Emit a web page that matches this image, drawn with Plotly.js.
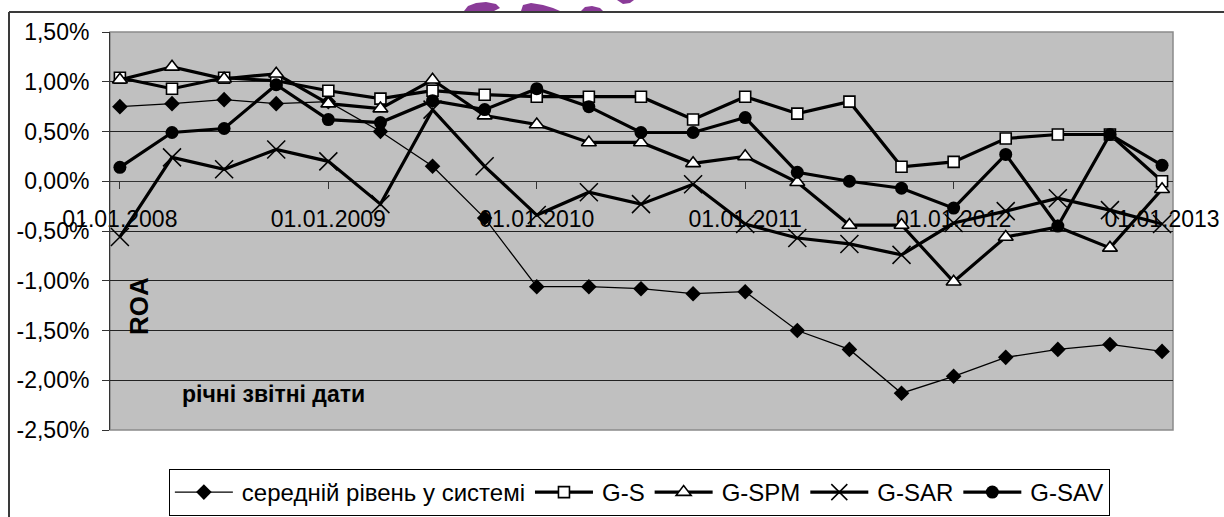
<!DOCTYPE html>
<html>
<head>
<meta charset="utf-8">
<script src="https://cdn.plot.ly/plotly-3.0.1.min.js"></script>
<style>html,body{margin:0;padding:0;background:#fff;}#chart{width:1224px;height:517px;}</style>
</head>
<body>
<div id="chart"></div>
<script>
// Quarterly reporting dates (index positions on x axis)
const dates = ["01.01.2008","01.04.2008","01.07.2008","01.10.2008",
  "01.01.2009","01.04.2009","01.07.2009","01.10.2009",
  "01.01.2010","01.04.2010","01.07.2010","01.10.2010",
  "01.01.2011","01.04.2011","01.07.2011","01.10.2011",
  "01.01.2012","01.04.2012","01.07.2012","01.10.2012","01.01.2013"];
const xIndex = dates.map((d, i) => i);

// ROA values, %
const avgSystem = [0.75, 0.78, 0.82, 0.78, 0.80, 0.50, 0.15, -0.37, -1.06, -1.06, -1.08, -1.13, -1.11, -1.50, -1.69, -2.13, -1.96, -1.77, -1.69, -1.64, -1.71];
const gS   = [1.04, 0.93, 1.04, 1.01, 0.91, 0.83, 0.91, 0.87, 0.85, 0.85, 0.85, 0.62, 0.85, 0.68, 0.80, 0.145, 0.195, 0.43, 0.47, 0.47, 0.00];
const gSPM = [1.02, 1.15, 1.03, 1.08, 0.78, 0.73, 1.02, 0.66, 0.57, 0.39, 0.39, 0.18, 0.25, -0.01, -0.44, -0.44, -1.01, -0.56, -0.46, -0.67, -0.08];
const gSAR = [-0.56, 0.24, 0.12, 0.32, 0.20, -0.23, 0.72, 0.15, -0.34, -0.11, -0.23, -0.03, -0.43, -0.57, -0.63, -0.74, -0.42, -0.30, -0.17, -0.29, -0.43];
const gSAV = [0.14, 0.49, 0.53, 0.97, 0.62, 0.59, 0.81, 0.72, 0.93, 0.75, 0.49, 0.49, 0.64, 0.09, 0.00, -0.07, -0.27, 0.27, -0.45, 0.47, 0.16];

const seriesNames = ["середній рівень у системі", "G-S", "G-SPM", "G-SAR", "G-SAV"];

// Axis ticks
const xTickVals = [0, 4, 8, 12, 16, 20];
const xTickText = ["01.01.2008", "01.01.2009", "01.01.2010", "01.01.2011", "01.01.2012", "01.01.2013"];
const yTickVals = [-2.5, -2.0, -1.5, -1.0, -0.5, 0, 0.5, 1.0, 1.5];
const yTickText = ["-2,50%", "-2,00%", "-1,50%", "-1,00%", "-0,50%", "0,00%", "0,50%", "1,00%", "1,50%"];

const FONT = "Liberation Sans, Arial, sans-serif";
const LEGEND_ITEM_W = 62;
const LEGEND_LINE_W = 58;

const traces = [
  {x: xIndex, y: avgSystem, name: seriesNames[0], mode: "lines+markers",
   line: {color: "#000", width: 1.3},
   marker: {symbol: "diamond", size: 12, color: "#000"}},
  {x: xIndex, y: gS, name: seriesNames[1], mode: "lines+markers",
   line: {color: "#000", width: 3.2},
   marker: {symbol: "square", size: 11, color: "#fff", line: {color: "#000", width: 1.6}}},
  {x: xIndex, y: gSPM, name: seriesNames[2], mode: "lines+markers",
   line: {color: "#000", width: 3.2},
   marker: {symbol: "triangle-up", size: 13, color: "#fff", line: {color: "#000", width: 1.6}}},
  {x: xIndex, y: gSAR, name: seriesNames[3], mode: "lines+markers",
   line: {color: "#000", width: 3.2},
   marker: {symbol: "x-thin-open", size: 18, color: "#000", line: {color: "#000", width: 1.5}}},
  {x: xIndex, y: gSAV, name: seriesNames[4], mode: "lines+markers",
   line: {color: "#000", width: 3.2},
   marker: {symbol: "circle", size: 13, color: "#000"}}
];

// helpers: plot area is 110..1173 px horizontally, 32..430 px vertically
const pxX = p => (p - 110) / 1063;
const pxY = p => (430 - p) / 398;
const poly = pts => "M" + pts.map(p => pxX(p[0]) + "," + pxY(p[1])).join("L") + "Z";

const purple = "#8a3b98";
const blobs = [
  [[464,11],[468,6],[476,3],[486,2],[496,4],[500,8],[494,11]],
  [[521,11],[523,5],[531,3],[543,5],[553,8],[560,11]],
  [[581,11],[585,7],[592,6],[600,8],[603,11]],
  [[617,0],[634,0],[630,3],[623,4]]
];

const layout = {
  width: 1224, height: 517,
  margin: {l: 110, r: 51, t: 32, b: 87, autoexpand: false},
  paper_bgcolor: "#fff",
  plot_bgcolor: "#c0c0c0",
  font: {family: FONT, color: "#000", size: 23},
  showlegend: true,
  legend: {
    orientation: "h", x: 0.498, xanchor: "center", y: pxY(469), yanchor: "top",
    bgcolor: "#fff", bordercolor: "#000", borderwidth: 1,
    font: {family: FONT, size: 24, color: "#000"},
    itemwidth: LEGEND_ITEM_W, tracegroupgap: 0
  },
  xaxis: {
    range: [-0.19, 20.21],
    anchor: "free", position: 0.625,
    tickvals: xTickVals, ticktext: xTickText,
    ticks: "outside", ticklen: 7, tickcolor: "#333", tickwidth: 1,
    ticklabelstandoff: 10,
    showgrid: false, zeroline: false,
    showline: true, linecolor: "#333", linewidth: 1,
    tickfont: {family: FONT, size: 23, color: "#000"},
    layer: "below traces"
  },
  yaxis: {
    range: [-2.5, 1.5],
    tickvals: yTickVals, ticktext: yTickText,
    ticks: "outside", ticklen: 7, tickcolor: "#333", tickwidth: 1,
    ticklabelstandoff: 8,
    showgrid: true, gridcolor: "#222", gridwidth: 1,
    zeroline: false,
    showline: true, linecolor: "#333", linewidth: 1,
    tickfont: {family: FONT, size: 23, color: "#000"}
  },
  shapes: [
    {type: "rect", xref: "paper", yref: "paper", x0: 0, x1: 1, y0: 0, y1: 1,
     line: {color: "#8a8a8a", width: 1.5}, layer: "below"},
    {type: "line", xref: "paper", yref: "paper", x0: pxX(9), x1: pxX(1226), y0: pxY(12), y1: pxY(12),
     line: {color: "#3a3a3a", width: 2}},
    {type: "line", xref: "paper", yref: "paper", x0: pxX(9), x1: pxX(9), y0: pxY(12), y1: pxY(520),
     line: {color: "#3a3a3a", width: 2}}
  ].concat(blobs.map(b => ({type: "path", xref: "paper", yref: "paper", path: poly(b),
     fillcolor: purple, line: {width: 0}}))),
  annotations: [
    {text: "<b>ROA</b>", xref: "paper", yref: "paper", x: pxX(139), y: pxY(306),
     showarrow: false, textangle: -90, font: {family: FONT, size: 26, color: "#000"},
     xanchor: "center", yanchor: "middle"},
    {text: "<b>річні звітні дати</b>", xref: "paper", yref: "paper", x: pxX(180), y: pxY(394),
     showarrow: false, font: {family: FONT, size: 23, color: "#000"},
     xanchor: "left", yanchor: "middle"}
  ]
};

function stretchLegendSymbols(gd) {
  gd.querySelectorAll("g.legend g.traces").forEach(tr => {
    tr.querySelectorAll("g.legendlines path").forEach(p => p.setAttribute("d", "M5,0h" + LEGEND_LINE_W));
    tr.querySelectorAll("g.legendpoints path").forEach(p =>
      p.setAttribute("transform", "translate(" + (5 + LEGEND_LINE_W / 2) + ",0)"));
  });
}

const gdEl = document.getElementById("chart");
Plotly.newPlot(gdEl, traces, layout, {displayModeBar: false, staticPlot: true}).then(gd => {
  stretchLegendSymbols(gd);
  gd.on && gd.on("plotly_afterplot", () => stretchLegendSymbols(gd));
  setTimeout(() => stretchLegendSymbols(gd), 0);
  setTimeout(() => stretchLegendSymbols(gd), 100);
});
</script>
</body>
</html>
